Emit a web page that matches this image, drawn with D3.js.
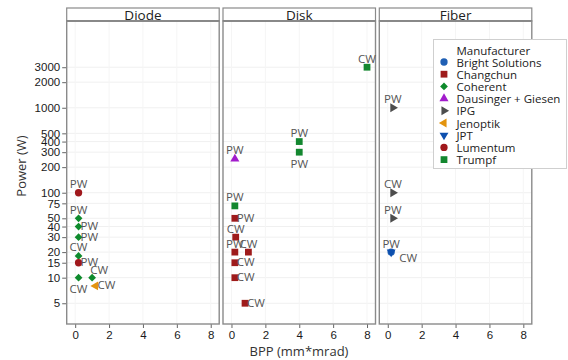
<!DOCTYPE html>
<html>
<head>
<meta charset="utf-8">
<script src="https://cdn.jsdelivr.net/npm/d3@7/dist/d3.min.js"></script>
<style>
  html, body { margin: 0; padding: 0; background: #fff; }
  svg { display: block; font-family: "Open Sans", "Noto Sans", sans-serif; }
</style>
</head>
<body>
<svg id="chart" width="568" height="360"></svg>
<script>
// Laser sources: pumping technology, manufacturer, beam parameter product and power
const technologies = ["Diode", "Disk", "Fiber"];
const manufacturers = ["Bright Solutions", "Changchun", "Coherent", "Dausinger + Giesen",
  "IPG", "Jenoptik", "JPT", "Lumentum", "Trumpf"];

const tech = [
  "Diode", "Diode", "Diode", "Diode", "Diode", "Diode", "Diode", "Diode", "Diode",
  "Disk", "Disk", "Disk", "Disk", "Disk", "Disk", "Disk", "Disk", "Disk", "Disk", "Disk", "Disk",
  "Fiber", "Fiber", "Fiber", "Fiber", "Fiber"
];
const maker = [
  "Lumentum", "Coherent", "Coherent", "Coherent", "Coherent", "Lumentum", "Coherent", "Coherent", "Jenoptik",
  "Trumpf", "Trumpf", "Trumpf", "Dausinger + Giesen", "Trumpf", "Changchun", "Changchun", "Changchun",
  "Changchun", "Changchun", "Changchun", "Changchun",
  "IPG", "IPG", "IPG", "Bright Solutions", "JPT"
];
const bpp = [
  0.2, 0.2, 0.2, 0.2, 0.2, 0.2, 0.2, 1.0, 1.2,
  8.0, 4.0, 4.0, 0.2, 0.2, 0.2, 0.25, 0.2, 1.0, 0.2, 0.2, 0.8,
  0.3, 0.3, 0.3, 0.2, 0.2
];
const power = [
  100, 50, 40, 30, 18, 15, 10, 10, 8,
  3000, 400, 300, 250, 70, 50, 30, 20, 20, 15, 10, 5,
  1000, 100, 50, 20, 20
];
const mode = [
  "PW", "PW", "PW", "PW", "CW", "PW", "CW", "CW", "CW",
  "CW", "PW", "PW", "PW", "PW", "PW", "CW", "PW", "CW", "CW", "CW", "CW",
  "PW", "CW", "PW", "CW", "PW"
];
// where each mode label sits relative to its marker
const labelSide = [
  "above", "above", "right", "right", "above", "right", "below", "aboveright", "right",
  "above", "above", "below", "above", "above", "right", "above", "above", "above", "right", "right", "right",
  "above", "above", "above", "belowright", "above"
];

const yTicks = [5, 10, 15, 20, 30, 40, 50, 75, 100, 200, 300, 400, 500, 1000, 2000, 3000];
const xTicks = [0, 2, 4, 6, 8];

const colors = {
  "Bright Solutions": "#1f5fb4",
  "Changchun": "#9e1b1b",
  "Coherent": "#0e8a2c",
  "Dausinger + Giesen": "#a21ccc",
  "IPG": "#4d4d4d",
  "Jenoptik": "#e3940e",
  "JPT": "#0d4fae",
  "Lumentum": "#a0181c",
  "Trumpf": "#13872f"
};

// marker shapes: [d3 symbol, size, rotation]
const tri = d3.symbolTriangle;
const shapes = {
  "Bright Solutions": [d3.symbolCircle, 42, 0],
  "Changchun": [d3.symbolSquare, 46, 0],
  "Coherent": [d3.symbolSquare, 30, 45],
  "Dausinger + Giesen": [tri, 36, 0],
  "IPG": [tri, 34, 90],
  "Jenoptik": [tri, 34, -90],
  "JPT": [tri, 34, 180],
  "Lumentum": [d3.symbolCircle, 42, 0],
  "Trumpf": [d3.symbolSquare, 46, 0]
};

const svg = d3.select("#chart");
const panelLeft = 66.7, panelStep = 156.3, panelW = 152.5;
const plotTop = 21, plotBottom = 324, stripTop = 8;

const y = d3.scaleLog().domain([2.85, 10500]).range([plotBottom, plotTop]);

function symbolPath(m) {
  const s = shapes[m];
  return d3.symbol().type(s[0]).size(s[1])();
}

// y axis
const yAxis = svg.append("g")
  .attr("transform", `translate(${panelLeft},0)`)
  .call(d3.axisLeft(y).tickValues(yTicks).tickFormat(d3.format("d")).tickSize(4.5).tickPadding(2));
yAxis.select(".domain").remove();
yAxis.selectAll("line").attr("stroke", "#666");
yAxis.selectAll("text").attr("fill", "#1a1a1a").attr("font-size", 11.5);

svg.append("text")
  .attr("transform", `translate(21,166) rotate(-90)`)
  .attr("text-anchor", "middle")
  .attr("dominant-baseline", "central")
  .attr("fill", "#333")
  .attr("font-size", 13)
  .text("Power (W)");

technologies.forEach((t, i) => {
  const x0 = panelLeft + i * panelStep;
  const x = d3.scaleLinear().domain([-0.5, 8.5]).range([x0, x0 + panelW]);
  const g = svg.append("g");

  // light grid
  g.selectAll("line.gy").data(yTicks).join("line")
    .attr("x1", x0).attr("x2", x0 + panelW)
    .attr("y1", d => y(d)).attr("y2", d => y(d))
    .attr("stroke", "#f0f0f0").attr("stroke-width", 1);
  g.selectAll("line.gx").data(xTicks).join("line")
    .attr("x1", d => x(d)).attr("x2", d => x(d))
    .attr("y1", plotTop).attr("y2", plotBottom)
    .attr("stroke", "#f5f5f5").attr("stroke-width", 1);

  // x axis
  const xa = g.append("g")
    .attr("transform", `translate(0,${plotBottom})`)
    .call(d3.axisBottom(x).tickValues(xTicks).tickSize(4).tickPadding(3));
  xa.select(".domain").remove();
  xa.selectAll("line").attr("stroke", "#666");
  xa.selectAll("text").attr("fill", "#1a1a1a").attr("font-size", 11.5);

  // strip
  g.append("rect")
    .attr("x", x0).attr("y", stripTop).attr("width", panelW).attr("height", plotTop - stripTop)
    .attr("fill", "#fff").attr("stroke", "#8a8a8a").attr("stroke-width", 1.2);
  g.append("line")
    .attr("x1", x0).attr("x2", x0 + panelW).attr("y1", plotTop).attr("y2", plotTop)
    .attr("stroke", "#555").attr("stroke-width", 1.2);
  g.append("text")
    .attr("x", x0 + panelW / 2).attr("y", (stripTop + plotTop) / 2 + 0.5)
    .attr("text-anchor", "middle").attr("dominant-baseline", "central")
    .attr("fill", "#222").attr("font-size", 13.5)
    .text(t);

  // panel frame
  g.append("rect")
    .attr("x", x0).attr("y", plotTop).attr("width", panelW).attr("height", plotBottom - plotTop)
    .attr("fill", "none").attr("stroke", "#8a8a8a").attr("stroke-width", 1.4);

  // points
  const idx = d3.range(tech.length).filter(k => tech[k] === t);
  g.selectAll("path.pt").data(idx).join("path")
    .attr("d", k => symbolPath(maker[k]))
    .attr("transform", k => `translate(${x(bpp[k])},${y(power[k])}) rotate(${shapes[maker[k]][2]})`)
    .attr("fill", k => colors[maker[k]]);

  // mode labels
  const off = {
    above: [0, -9, "middle"],
    below: [0, 11, "middle"],
    right: [2, -1, "start"],
    aboveright: [7, -8, "middle"],
    belowright: [8, 5, "start"]
  };
  g.selectAll("text.lbl").data(idx).join("text")
    .attr("x", k => x(bpp[k]) + off[labelSide[k]][0])
    .attr("y", k => y(power[k]) + off[labelSide[k]][1])
    .attr("text-anchor", k => off[labelSide[k]][2])
    .attr("dominant-baseline", "central")
    .attr("fill", "#555").attr("font-size", 11.5)
    .text(k => mode[k]);
});

svg.append("text")
  .attr("x", 299).attr("y", 351)
  .attr("text-anchor", "middle").attr("dominant-baseline", "central")
  .attr("fill", "#333").attr("font-size", 13)
  .text("BPP (mm*mrad)");

// legend
const lg = svg.append("g");
lg.append("rect")
  .attr("x", 433.5).attr("y", 39.5).attr("width", 133).attr("height", 129)
  .attr("fill", "#fff").attr("stroke", "#cfcfcf").attr("stroke-width", 1);
lg.append("text")
  .attr("x", 456.5).attr("y", 50).attr("dominant-baseline", "central")
  .attr("fill", "#222").attr("font-size", 11.5).text("Manufacturer");
manufacturers.forEach((m, i) => {
  const yy = 62 + i * 12.2;
  lg.append("path")
    .attr("d", symbolPath(m))
    .attr("transform", `translate(444,${yy}) rotate(${shapes[m][2]})`)
    .attr("fill", colors[m]);
  lg.append("text")
    .attr("x", 456.5).attr("y", yy).attr("dominant-baseline", "central")
    .attr("fill", "#222").attr("font-size", 11.5).text(m);
});
</script>
</body>
</html>
